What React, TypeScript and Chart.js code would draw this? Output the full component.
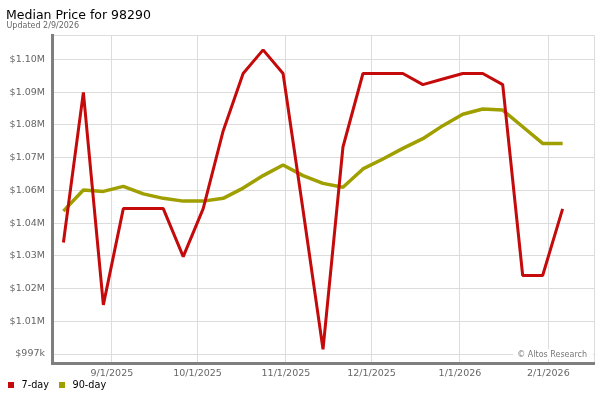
import React, { useEffect, useRef } from 'react';
import { Chart, registerables } from 'chart.js';

Chart.register(...registerables);

// ---- Data ----
const titleText = 'Median Price for 98290';
const subtitleText = 'Updated 2/9/2026';
const watermarkText = '© Altos Research';

const seriesNames = ['7-day', '90-day'];

const weekDates = [
  '2025-08-15', '2025-08-22', '2025-08-29', '2025-09-05', '2025-09-12', '2025-09-19',
  '2025-09-26', '2025-10-03', '2025-10-10', '2025-10-17', '2025-10-24', '2025-10-31',
  '2025-11-07', '2025-11-14', '2025-11-21', '2025-11-28', '2025-12-05', '2025-12-12',
  '2025-12-19', '2025-12-26', '2026-01-02', '2026-01-09', '2026-01-16', '2026-01-23',
  '2026-01-30', '2026-02-06',
];

const sevenDay = [
  1037200, 1091300, 1014700, 1049400, 1049400, 1049400,
  1032100, 1049400, 1077400, 1098100, 1106600, 1098100,
  1048900, 998700, 1071600, 1098100, 1098100, 1098100,
  1094100, 1096100, 1098100, 1098100, 1094100, 1025300,
  1025300, 1049300,
];

const ninetyDay = [
  1048500, 1056100, 1055600, 1057400, 1054700, 1053100,
  1052100, 1052100, 1053100, 1056800, 1061300, 1065100,
  1061300, 1058500, 1057100, 1063700, 1067300, 1071100,
  1074600, 1079300, 1083400, 1085300, 1084900, 1078900,
  1072900, 1072900,
];

const xRangeDates = ['2025-08-11', '2026-02-17'];
const xTickDates = ['2025-09-01', '2025-10-01', '2025-11-01', '2025-12-01', '2026-01-01', '2026-02-01'];
const xTickLabels = ['9/1/2025', '10/1/2025', '11/1/2025', '12/1/2025', '1/1/2026', '2/1/2026'];

const yRange = [993760, 1111970];
const yTickValues = [997000, 1008800, 1020600, 1032400, 1044200, 1056000, 1067800, 1079600, 1091400, 1103200];
const yTickLabels = ['$997k', '$1.01M', '$1.02M', '$1.03M', '$1.04M', '$1.06M', '$1.07M', '$1.08M', '$1.09M', '$1.10M'];

// ---- Styling ----
const FONT = 'DejaVu Sans';
const RED = '#c40a0a';
const OLIVE = '#a09f00';
const GRID = '#dcdcdc';
const AXIS = '#7f7f7f';
const TICK_COLOR = '#666666';
const seriesColors = [RED, OLIVE];
const seriesWidths = [3, 3.5];

const toDay = (s: string) => {
  const [y, m, d] = s.split('-').map(Number);
  return Date.UTC(y, m - 1, d) / 86400000;
};

const watermarkPlugin = {
  id: 'altosWatermark',
  beforeDatasetsDraw(chart: any) {
    const { ctx, chartArea } = chart;
    const yPix = chart.scales.y.getPixelForValue(yTickValues[0]);
    ctx.save();
    ctx.font = `8px "${FONT}"`;
    const w = ctx.measureText(watermarkText).width;
    const x = chartArea.right - 7 - w;
    ctx.fillStyle = '#ffffff';
    ctx.fillRect(x - 4, yPix - 5, chartArea.right - 1 - (x - 4), 10);
    ctx.fillStyle = '#777777';
    ctx.textBaseline = 'middle';
    ctx.textAlign = 'left';
    ctx.fillText(watermarkText, x, yPix + 0.5);
    ctx.restore();
  },
};

export default function App() {
  const ref = useRef<HTMLCanvasElement>(null);

  useEffect(() => {
    if (!ref.current) return;
    const xMin = toDay(xRangeDates[0]);
    const xMax = toDay(xRangeDates[1]);
    const series = [sevenDay, ninetyDay];
    const chart = new Chart(ref.current, {
      type: 'line',
      data: {
        datasets: series.map((vals, s) => ({
          label: seriesNames[s],
          data: weekDates.map((d, i) => ({ x: toDay(d), y: vals[i] })),
          borderColor: seriesColors[s],
          backgroundColor: seriesColors[s],
          borderWidth: seriesWidths[s],
          pointRadius: 0,
          tension: 0,
          borderJoinStyle: 'bevel',
        })),
      },
      options: {
        responsive: false,
        animation: false,
        events: [],
        layout: { padding: { left: 0, right: 6, top: 35, bottom: 0 } },
        scales: {
          x: {
            type: 'linear',
            min: xMin,
            max: xMax,
            afterBuildTicks: (scale: any) => {
              scale.ticks = [{ value: xMin }, ...xTickDates.map((d) => ({ value: toDay(d) })), { value: xMax }];
            },
            afterFit: (scale: any) => {
              scale.height = 37;
            },
            grid: { color: GRID, lineWidth: 1, drawTicks: false },
            border: { color: AXIS, width: 3 },
            ticks: {
              autoSkip: false,
              maxRotation: 0,
              padding: 5,
              color: TICK_COLOR,
              font: { family: FONT, size: 9.5 },
              callback: (value: any) => {
                const i = xTickDates.findIndex((d) => toDay(d) === value);
                return i >= 0 ? xTickLabels[i] : '';
              },
            },
          },
          y: {
            type: 'linear',
            min: yRange[0],
            max: yRange[1],
            afterBuildTicks: (scale: any) => {
              scale.ticks = [...yTickValues.map((v) => ({ value: v })), { value: yRange[1] }];
            },
            afterFit: (scale: any) => {
              scale.width = 52;
            },
            grid: { color: GRID, lineWidth: 1, drawTicks: false },
            border: { color: AXIS, width: 3 },
            ticks: {
              autoSkip: false,
              padding: 7,
              color: TICK_COLOR,
              font: { family: FONT, size: 9.5 },
              callback: (value: any) => {
                const i = yTickValues.indexOf(value);
                return i >= 0 ? yTickLabels[i] : '';
              },
            },
          },
        },
        plugins: {
          title: { display: false },
          tooltip: { enabled: false },
          legend: { display: false },
        },
      } as any,
      plugins: [watermarkPlugin],
    });
    return () => chart.destroy();
  }, []);

  const legendLefts = [8, 59];

  return (
    <div
      style={{
        position: 'absolute',
        left: 0,
        top: 0,
        width: 600,
        height: 400,
        background: '#ffffff',
        fontFamily: `"${FONT}"`,
      }}
    >
      <canvas ref={ref} width={600} height={400} style={{ display: 'block', width: 600, height: 400 }} />
      <div
        style={{
          position: 'absolute',
          left: 6,
          top: 7,
          fontSize: 12.5,
          lineHeight: '15px',
          color: '#000000',
          whiteSpace: 'nowrap',
        }}
      >
        {titleText}
      </div>
      <div
        style={{
          position: 'absolute',
          left: 6.5,
          top: 20.5,
          fontSize: 8,
          lineHeight: '10px',
          color: '#666666',
          whiteSpace: 'nowrap',
        }}
      >
        {subtitleText}
      </div>
      {seriesNames.map((name, s) => (
        <div
          key={name}
          style={{
            position: 'absolute',
            left: legendLefts[s],
            top: 379,
            height: 12,
            display: 'flex',
            alignItems: 'center',
            fontSize: 9.7,
            lineHeight: '12px',
            color: '#000000',
            whiteSpace: 'nowrap',
          }}
        >
          <span
            style={{
              display: 'inline-block',
              width: 6,
              height: 6,
              background: seriesColors[s],
              marginRight: 7.5,
            }}
          />
          <span>{name}</span>
        </div>
      ))}
    </div>
  );
}
